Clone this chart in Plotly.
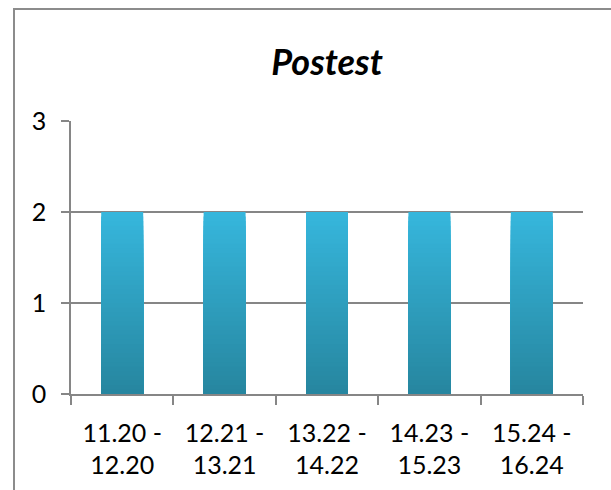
import plotly.graph_objects as go

categories = ["11.20 -<br>12.20", "12.21 -<br>13.21", "13.22 -<br>14.22", "14.23 -<br>15.23", "15.24 -<br>16.24"]
values = [2, 2, 2, 2, 2]
title_text = "Postest"
y_ticks = [0, 1, 2, 3]

top_rgb = (54, 182, 220)
bot_rgb = (38, 133, 158)
N = 40

fig = go.Figure()
for k in range(N):
    f = k / N
    r = round(top_rgb[0] + (bot_rgb[0] - top_rgb[0]) * f)
    g = round(top_rgb[1] + (bot_rgb[1] - top_rgb[1]) * f)
    b = round(top_rgb[2] + (bot_rgb[2] - top_rgb[2]) * f)
    fig.add_trace(go.Bar(
        x=categories,
        y=[v * (1 - f) for v in values],
        marker=dict(color=f"rgb({r},{g},{b})", line=dict(width=0)),
        showlegend=False,
        hoverinfo="skip",
    ))

W, H = 611, 490
L, R, T, B = 71, 28, 121, 96
pw, ph = W - L - R, H - T - B

fig.update_layout(
    width=W, height=H,
    margin=dict(l=L, r=R, t=T, b=B),
    barmode="overlay",
    bargap=0.59,
    plot_bgcolor="white",
    paper_bgcolor="white",
    font=dict(family="Lato, Carlito, sans-serif", size=25, color="black"),
    title=dict(text=f"<b><i>{title_text}</i></b>", x=0.5, xref="paper", xanchor="center",
               y=1 - 62 / H, yref="container", yanchor="middle",
               font=dict(size=36, family="Lato, sans-serif", color="black")),
    xaxis=dict(
        type="category", tickson="boundaries", ticks="outside", ticklen=9,
        tickcolor="#868686", tickwidth=1.5, showline=True, linecolor="#868686", linewidth=1.5,
        showgrid=False, ticklabelstandoff=16, tickfont=dict(size=25),
    ),
    yaxis=dict(
        range=[0, 3], tickvals=y_ticks, ticks="outside", ticklen=8, tickcolor="#868686",
        tickwidth=1.5, showline=True, linecolor="#868686", linewidth=1.5,
        showgrid=True, gridcolor="#868686", gridwidth=1.5, zeroline=False,
        ticklabelstandoff=10, tickfont=dict(size=25),
    ),
    shapes=[dict(
        type="rect", xref="paper", yref="paper",
        x0=(14 - L) / pw, x1=1.2, y0=-0.6, y1=(H - B - 9) / ph,
        line=dict(color="#8c8c8c", width=2), fillcolor="rgba(0,0,0,0)", layer="below",
    )],
)

fig.write_html(
    "out.html",
    config={"displayModeBar": False},
    post_script="document.body.style.margin='0';document.body.style.overflow='hidden';",
)
